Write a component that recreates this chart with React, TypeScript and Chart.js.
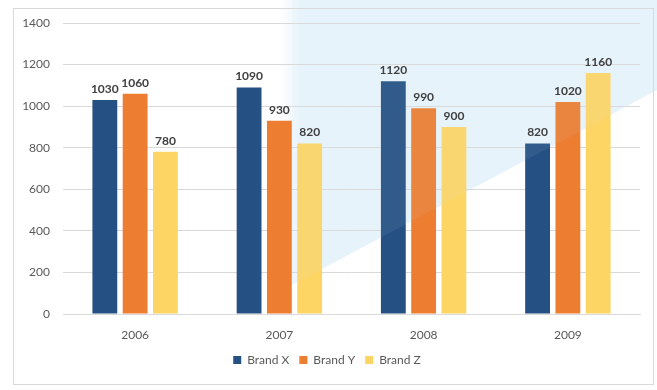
import React, { useEffect, useRef } from "react";
import { Chart, registerables } from "chart.js";

Chart.register(...registerables);

const categories = ["2006", "2007", "2008", "2009"];
const brandX = [1030, 1090, 1120, 820];
const brandY = [1060, 930, 990, 1020];
const brandZ = [780, 820, 900, 1160];
const seriesNames = ["Brand X", "Brand Y", "Brand Z"];
const yTicks = [0, 200, 400, 600, 800, 1000, 1200, 1400];

const FONT = "Lato, 'Open Sans', sans-serif";

const framePlugin = {
  id: "frame",
  beforeDraw(chart: any) {
    const { ctx, width } = chart;
    ctx.save();
    ctx.fillStyle = "#ffffff";
    ctx.fillRect(0, 0, width, chart.height);
    const g = ctx.createLinearGradient(280, 0, 300, 0);
    g.addColorStop(0, "rgba(234,245,251,0)");
    g.addColorStop(1, "rgba(234,245,251,1)");
    ctx.fillStyle = g;
    ctx.beginPath();
    ctx.moveTo(280, 0);
    ctx.lineTo(width, 0);
    ctx.lineTo(width, 90);
    ctx.lineTo(292, 285);
    ctx.lineTo(280, 290);
    ctx.closePath();
    ctx.fill();
    ctx.strokeStyle = "#d9d9d9";
    ctx.lineWidth = 1;
    ctx.strokeRect(13.5, 8.5, 640, 376);
    ctx.restore();
  },
  afterDatasetsDraw(chart: any) {
    const { ctx, width } = chart;
    ctx.save();
    ctx.fillStyle = "rgba(210,232,245,0.08)";
    ctx.beginPath();
    ctx.moveTo(292, 0);
    ctx.lineTo(width, 0);
    ctx.lineTo(width, 90);
    ctx.lineTo(292, 285);
    ctx.closePath();
    ctx.fill();
    ctx.restore();
  },
};

const labelPlugin = {
  id: "barLabels",
  afterDatasetsDraw(chart: any) {
    const { ctx } = chart;
    ctx.save();
    ctx.font = `bold 12px ${FONT}`;
    ctx.fillStyle = "#404040";
    ctx.textAlign = "center";
    ctx.textBaseline = "bottom";
    chart.data.datasets.forEach((ds: any, i: number) => {
      const meta = chart.getDatasetMeta(i);
      meta.data.forEach((bar: any, j: number) => {
        ctx.fillText(String(ds.data[j]), bar.x, bar.y - 5);
      });
    });
    ctx.restore();
  },
};

export default function App() {
  const ref = useRef<HTMLCanvasElement | null>(null);
  useEffect(() => {
    document.body.style.margin = "0";
    const chart = new Chart(ref.current as HTMLCanvasElement, {
      type: "bar",
      data: {
        labels: categories,
        datasets: [
          { label: seriesNames[0], data: brandX, backgroundColor: "#245083" },
          { label: seriesNames[1], data: brandY, backgroundColor: "#ed7d31" },
          { label: seriesNames[2], data: brandZ, backgroundColor: "#fdd565" },
        ],
      },
      options: {
        animation: false,
        responsive: false,
        layout: { padding: { left: 14, right: 17, top: 23, bottom: 14 } },
        datasets: {
          bar: { barPercentage: 0.82, categoryPercentage: 0.63 },
        } as any,
        scales: {
          x: {
            grid: { display: false },
            border: { display: true, color: "#d9d9d9" },
            ticks: { color: "#595959", font: { family: FONT, size: 12 }, padding: 6 },
            afterFit: (s: any) => { s.height = 30; },
          },
          y: {
            min: 0,
            max: 1400,
            afterBuildTicks: (s: any) => { s.ticks = yTicks.map((v) => ({ value: v })); },
            grid: { color: "#d9d9d9", drawTicks: false },
            border: { display: false },
            ticks: {
              color: "#595959",
              font: { family: FONT, size: 12 },
              padding: 13,
              callback: (v: any) => String(v),
            },
            afterFit: (s: any) => { s.width = 49; },
          },
        },
        plugins: {
          legend: {
            position: "bottom",
            labels: {
              boxWidth: 8,
              boxHeight: 8,
              color: "#595959",
              font: { family: FONT, size: 12 },
              padding: 10,
            },
          },
          tooltip: { enabled: false },
        },
      },
      plugins: [framePlugin, labelPlugin],
    });
    return () => chart.destroy();
  }, []);
  return <canvas ref={ref} width={657} height={390} style={{ display: "block" }} />;
}
